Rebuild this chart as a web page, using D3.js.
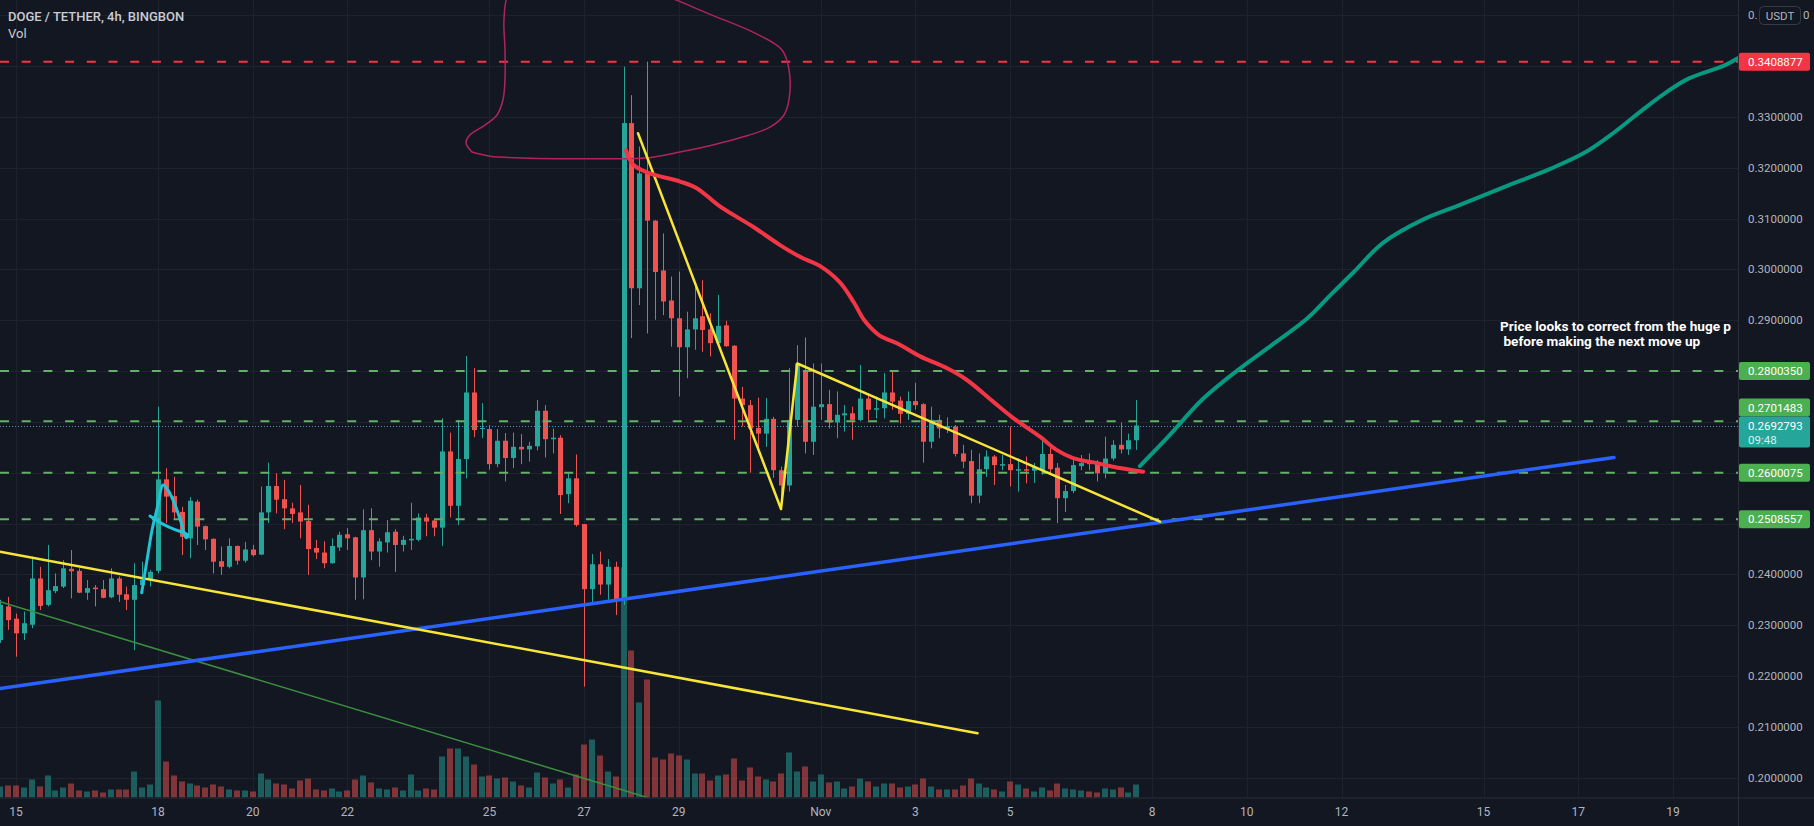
<!DOCTYPE html>
<html><head><meta charset="utf-8">
<script src="https://cdn.jsdelivr.net/npm/d3@7"></script>
<style>
html,body{margin:0;padding:0;background:#131722;overflow:hidden}
svg{display:block}
</style></head><body>
<svg id="c" width="1814" height="826"></svg>
<script>
// ---------------- DATA ----------------
const firstBarUTC = Date.UTC(2021, 9, 14, 16); // first visible 4h bar
const barHours = 4;
const open  = [.2271,.2337,.2313,.2284,.2301,.2392,.2340,.2367,.2376,.2411,.2407,.2364,.2374,.2371,.2355,.2392,.2361,.2350,.2379,.2390,
  .2407,.2587,.2554,.2523,.2471,.2543,.2495,.2470,.2426,.2415,.2456,.2427,.2449,.2439,.2522,.2574,.2548,.2530,.2522,.2505,
  .2452,.2443,.2422,.2453,.2479,.2473,.2394,.2487,.2445,.2463,.2484,.2458,.2467,.2468,.2512,.2506,.2492,.2642,.2535,.2627,
  .2758,.2687,.2686,.2617,.2663,.2629,.2651,.2646,.2652,.2722,.2666,.2669,.2558,.2589,.2499,.2371,.2420,.2380,.2415,.2350,
  .3288,.2963,.3188,.3096,.2998,.2939,.2904,.2847,.2882,.2908,.2882,.2855,.2890,.2850,.2746,.2733,.2688,.2677,.2706,.2605,
  .2575,.2704,.2801,.2661,.2729,.2735,.2699,.2713,.2717,.2704,.2746,.2724,.2727,.2758,.2742,.2716,.2741,.2735,.2661,.2704,
  .2687,.2691,.2638,.2623,.2555,.2607,.2632,.2614,.2617,.2604,.2607,.2604,.2605,.2637,.2610,.2550,.2564,.2613,.2619,.2620,
  .2599,.2628,.2655,.2646,.2664];
const high  = [.2350,.2356,.2323,.2327,.2435,.2415,.2458,.2402,.2428,.2448,.2412,.2389,.2379,.2389,.2412,.2396,.2376,.2422,.2425,.2409,
  .2730,.2609,.2592,.2533,.2552,.2547,.2496,.2471,.2455,.2471,.2457,.2464,.2458,.2573,.2620,.2599,.2586,.2541,.2576,.2537,
  .2468,.2465,.2471,.2484,.2491,.2474,.2528,.2530,.2471,.2507,.2489,.2476,.2541,.2520,.2519,.2508,.2707,.2679,.2704,.2830,
  .2806,.2737,.2694,.2686,.2678,.2679,.2676,.2661,.2743,.2733,.2687,.2674,.2599,.2636,.2499,.2440,.2445,.2430,.2425,.3399,
  .3343,.3242,.3409,.3097,.3071,.2986,.2996,.2917,.2969,.2979,.2914,.2950,.2899,.2851,.2769,.2743,.2748,.2747,.2710,.2612,
  .2806,.2851,.2866,.2815,.2815,.2763,.2760,.2733,.2730,.2812,.2753,.2750,.2796,.2802,.2750,.2760,.2777,.2737,.2730,.2714,
  .2709,.2694,.2655,.2645,.2638,.2644,.2635,.2635,.2691,.2628,.2632,.2619,.2668,.2655,.2619,.2576,.2625,.2635,.2638,.2625,
  .2671,.2664,.2699,.2677,.2743];
const low   = [.2265,.2291,.2238,.2271,.2294,.2330,.2337,.2363,.2373,.2353,.2363,.2350,.2337,.2353,.2353,.2346,.2330,.2251,.2376,.2376,
  .2402,.2501,.2507,.2438,.2432,.2458,.2448,.2402,.2399,.2412,.2419,.2423,.2435,.2438,.2501,.2520,.2489,.2501,.2471,.2399,
  .2430,.2412,.2421,.2446,.2448,.2350,.2351,.2428,.2415,.2443,.2405,.2445,.2448,.2465,.2475,.2475,.2456,.2512,.2497,.2589,
  .2670,.2668,.2606,.2611,.2583,.2609,.2617,.2622,.2644,.2630,.2638,.2519,.2540,.2494,.2179,.2340,.2360,.2350,.2320,.2340,
  .2865,.2930,.2874,.2901,.2910,.2848,.2750,.2786,.2842,.2838,.2829,.2851,.2848,.2665,.2691,.2600,.2640,.2651,.2590,.2531,
  .2563,.2691,.2638,.2635,.2704,.2687,.2668,.2681,.2665,.2701,.2704,.2707,.2707,.2724,.2697,.2704,.2724,.2620,.2648,.2668,
  .2678,.2632,.2609,.2540,.2540,.2592,.2576,.2605,.2573,.2563,.2579,.2580,.2596,.2599,.2501,.2523,.2560,.2605,.2605,.2583,
  .2589,.2624,.2638,.2635,.2645];
const close = [.2340,.2310,.2284,.2304,.2392,.2338,.2369,.2377,.2412,.2406,.2364,.2373,.2371,.2354,.2392,.2360,.2350,.2379,.2390,.2405,
  .2587,.2553,.2522,.2474,.2545,.2494,.2469,.2425,.2415,.2456,.2427,.2449,.2438,.2522,.2574,.2547,.2530,.2519,.2504,.2450,
  .2443,.2422,.2456,.2478,.2471,.2394,.2487,.2445,.2465,.2483,.2458,.2468,.2470,.2512,.2504,.2492,.2642,.2535,.2627,.2758,
  .2684,.2688,.2617,.2663,.2629,.2651,.2646,.2653,.2722,.2666,.2669,.2556,.2589,.2497,.2371,.2420,.2380,.2415,.2350,.3288,
  .2963,.3189,.3096,.2995,.2937,.2904,.2847,.2882,.2904,.2881,.2855,.2889,.2849,.2746,.2733,.2687,.2677,.2706,.2605,.2575,
  .2704,.2815,.2661,.2730,.2735,.2699,.2714,.2717,.2704,.2746,.2724,.2727,.2758,.2740,.2716,.2741,.2733,.2661,.2704,.2687,
  .2692,.2637,.2622,.2555,.2607,.2632,.2615,.2617,.2605,.2607,.2604,.2611,.2637,.2607,.2550,.2564,.2615,.2619,.2617,.2599,
  .2628,.2655,.2646,.2664,.2693];
const volume = [11,12,12,10,18,11,22,7,10,14,7,6,7,5,8,8,8,26,10,13,
  97,36,22,16,14,12,10,13,11,8,7,7,6,24,18,14,13,9,17,19,
  8,7,9,6,7,18,22,15,9,8,10,7,23,7,9,8,41,49,49,41,
  33,21,22,19,20,16,12,10,25,20,14,18,10,23,53,58,42,26,21,230,
  147,95,118,40,38,44,42,38,24,24,17,22,23,39,17,30,21,18,16,24,
  45,26,31,16,23,15,16,9,11,19,16,11,14,14,10,11,13,19,11,8,
  8,8,12,19,14,10,8,6,16,13,9,6,10,7,14,9,8,7,6,5,
  9,8,10,5,13];

// time axis ticks (date, label)
const timeTicks = [["2021-10-15","15"],["2021-10-18","18"],["2021-10-20","20"],["2021-10-22","22"],["2021-10-25","25"],
  ["2021-10-27","27"],["2021-10-29","29"],["2021-11-01","Nov"],["2021-11-03","3"],["2021-11-05","5"],["2021-11-08","8"],
  ["2021-11-10","10"],["2021-11-12","12"],["2021-11-15","15"],["2021-11-17","17"],["2021-11-19","19"]];
const gridPrices = [0.20,0.21,0.22,0.23,0.24,0.25,0.26,0.27,0.28,0.29,0.30,0.31,0.32,0.33,0.34,0.35];
const axisTickLabels = [0.20,0.21,0.22,0.23,0.24,0.29,0.30,0.31,0.32,0.33];
const topTickParts = ["0.", "0"]; // 0.3500000 mostly hidden behind the currency badge
const currency = "USDT";

// horizontal levels
const redLevel = 0.3408877;
const greenLevels = [0.2800350, 0.2701483, 0.2600075, 0.2508557];
const lastPrice = 0.2692793;
const countdown = "09:48";

// drawings: [days after 2021-10-15 00:00 UTC, price]
const yellowLong   = [[-0.338,0.24447],[20.311,0.20874]];
const yellowDrop   = [[13.139,0.32680],[16.160,0.25287],[16.504,0.28150],[24.166,0.25037]];
const blueLine     = [[-0.338,0.21755],[33.756,0.26301]];
const greenThin    = [[-0.338,0.23463],[13.371,0.19600]];
const redCurve = [[12.885,0.3235],[13.04,0.3206],[13.39,0.3189],[14.03,0.3173],[14.38,0.3160],[14.87,0.3124],[15.57,0.3084],
  [16.14,0.3048],[16.56,0.3025],[16.98,0.3007],[17.40,0.2975],[17.70,0.2935],[17.92,0.2900],[18.23,0.2871],[18.67,0.2852],
  [19.10,0.2829],[19.66,0.2806],[20.08,0.2783],[20.64,0.2740],[21.06,0.2708],[21.63,0.2671],[21.98,0.2645],[22.33,0.2629],
  [22.83,0.2619],[23.17,0.2612],[23.81,0.2602]];
const tealCurve = [[23.74,0.2613],[24.33,0.2670],[25.07,0.2745],[25.81,0.2802],[26.54,0.2852],[27.28,0.2904],[27.77,0.2950],
  [28.26,0.2995],[28.87,0.3052],[29.72,0.3098],[30.45,0.3125],[31.43,0.3162],[32.41,0.3198],[33.14,0.3230],[33.75,0.3269],
  [34.36,0.3314],[34.85,0.3348],[35.34,0.3376],[36.08,0.3401],[36.38,0.3416]];
const cyanScribble = [[2.655,0.2364],[2.767,0.2428],[2.873,0.2487],[3.0,0.2537],[3.105,0.2576],[3.211,0.2566],[3.359,0.2537],
  [3.485,0.2503],[3.591,0.2472],[3.63,0.2478],[3.52,0.2483],[3.359,0.2488],[3.105,0.2499],[2.831,0.2515]];
const pinkLoop = [[9.633,0.3231],[9.506,0.3249],[9.590,0.3265],[9.907,0.3284],[10.160,0.3304],[10.287,0.3334],[10.329,0.3373],
  [10.329,0.3432],[10.308,0.3491],[10.393,0.3540],[10.700,0.3565],[11.491,0.3575],[12.548,0.3565],[13.604,0.3542],
  [14.660,0.3502],[15.611,0.3465],[16.181,0.3432],[16.329,0.3393],[16.329,0.3334],[16.223,0.3304],[15.927,0.3280],
  [15.294,0.3259],[14.723,0.3245],[14.026,0.3231],[13.456,0.3221],[12.907,0.3218],[11.914,0.3218],[10.858,0.3219],
  [10.013,0.3223],[9.633,0.3231]];
const noteAt = [31.35, 0.2878];
// visible part of the note (the rest is cut off by the price scale in the reference)
const noteLines = ["Price looks to correct from the huge p", " before making the next move up"];
const titleText = "DOGE / TETHER, 4h, BINGBON";

// ---------------- CHART ----------------
const W = 1814, H = 826, plotR = 1738, plotB = 797.5;
const FONT = "Roboto, 'Open Sans', 'Noto Sans', sans-serif";
const base = Date.UTC(2021, 9, 15);
const day = d => new Date(base + d * 864e5);
const x = d3.scaleUtc().domain([new Date(Date.UTC(2021,9,15)), new Date(Date.UTC(2021,10,19))]).range([16, 1672.9]);
const y = d3.scaleLinear().domain([0.20, 0.33]).range([777.7, 117]);
const yv = d3.scaleLinear().domain([0, 100]).range([plotB, plotB - 100]);

const svg = d3.select("#c");
svg.append("rect").attr("width", W).attr("height", H).attr("fill", "#131722");
svg.append("defs").append("clipPath").attr("id","pc").append("rect")
  .attr("x",0).attr("y",0).attr("width",plotR).attr("height",plotB);

const plot = svg.append("g").attr("clip-path","url(#pc)");
// grid
plot.append("g").selectAll("line").data(gridPrices).join("line")
  .attr("x1",0).attr("x2",plotR).attr("y1",d=>Math.round(y(d))+0.5).attr("y2",d=>Math.round(y(d))+0.5)
  .attr("stroke","#1e222d").attr("stroke-width",1);
plot.append("g").selectAll("line").data(timeTicks).join("line")
  .attr("x1",d=>Math.round(x(new Date(d[0]+"T00:00:00Z")))+0.5).attr("x2",d=>Math.round(x(new Date(d[0]+"T00:00:00Z")))+0.5)
  .attr("y1",0).attr("y2",plotB).attr("stroke","#1e222d").attr("stroke-width",1);

const bars = open.map((o,i)=>({t:new Date(firstBarUTC + i*barHours*3600e3), o, h:high[i], l:low[i], c:close[i], v:volume[i]}));
// volume
plot.append("g").selectAll("rect").data(bars).join("rect")
  .attr("x",d=>Math.round(x(d.t))-3).attr("width",6)
  .attr("y",d=>yv(d.v)).attr("height",d=>plotB-yv(d.v))
  .attr("fill",d=>d.c>=d.o?"rgba(38,166,154,0.5)":"rgba(239,83,80,0.5)");
// candles
const cg = plot.append("g");
cg.selectAll("line").data(bars).join("line")
  .attr("x1",d=>Math.round(x(d.t))+0.5).attr("x2",d=>Math.round(x(d.t))+0.5)
  .attr("y1",d=>y(d.h)).attr("y2",d=>y(d.l))
  .attr("stroke",d=>d.c>=d.o?"#26a69a":"#ef5350").attr("stroke-width",1);
cg.selectAll("rect").data(bars).join("rect")
  .attr("x",d=>Math.round(x(d.t))-2).attr("width",5)
  .attr("y",d=>y(Math.max(d.o,d.c))).attr("height",d=>Math.max(1,Math.abs(y(d.o)-y(d.c))))
  .attr("fill",d=>d.c>=d.o?"#26a69a":"#ef5350");

// level lines
plot.append("line").attr("x1",0).attr("x2",plotR).attr("y1",y(redLevel)).attr("y2",y(redLevel))
  .attr("stroke","#f23645").attr("stroke-width",2).attr("stroke-dasharray","9,12.7");
plot.append("g").selectAll("line").data(greenLevels).join("line")
  .attr("x1",0).attr("x2",plotR).attr("y1",d=>y(d)).attr("y2",d=>y(d))
  .attr("stroke","#63b067").attr("stroke-width",2).attr("stroke-dasharray","9,12.7");
plot.append("line").attr("x1",0).attr("x2",plotR).attr("y1",Math.round(y(lastPrice))+0.5).attr("y2",Math.round(y(lastPrice))+0.5)
  .attr("stroke","#4a8fc0").attr("stroke-width",1).attr("stroke-dasharray","1,2");

// drawings
const lineGen = c => d3.line().x(d=>x(day(d[0]))).y(d=>y(d[1])).curve(c || d3.curveLinear);
const draw = (pts, color, w, curve) => plot.append("path").attr("d", lineGen(curve)(pts))
  .attr("fill","none").attr("stroke",color).attr("stroke-width",w).attr("stroke-linecap","round").attr("stroke-linejoin","round");
draw(greenThin, "#3a8f3e", 1.5);
draw(pinkLoop, "#b0245c", 1.5, d3.curveCatmullRom);
draw(blueLine, "#2962ff", 3.5);
draw(yellowLong, "#f7e53a", 2.5);
draw(yellowDrop, "#f7e53a", 2.5);
draw(redCurve, "#f23645", 4, d3.curveCatmullRom);
draw(tealCurve, "#089981", 4, d3.curveCatmullRom);
draw(cyanScribble, "#22c3d6", 3, d3.curveCatmullRom);

// note text
const nt = plot.append("text").attr("x",x(day(noteAt[0]))).attr("y",y(noteAt[1]))
  .attr("fill","#ffffff").attr("font-family",FONT).attr("font-size",13.6).attr("font-weight",700)
  .attr("xml:space","preserve").style("white-space","pre");
noteLines.forEach((t,i)=>nt.append("tspan").attr("x",x(day(noteAt[0]))).attr("dy",i?15:0).text(t));

// title
svg.append("text").attr("x",8).attr("y",21).attr("fill","#c9ccd4").attr("font-family",FONT)
  .attr("font-size",13).attr("font-weight",500).text(titleText);
svg.append("text").attr("x",8).attr("y",38).attr("fill","#c9ccd4").attr("font-family",FONT)
  .attr("font-size",13).text("Vol");

// axes frame
svg.append("line").attr("x1",plotR+0.5).attr("x2",plotR+0.5).attr("y1",0).attr("y2",H).attr("stroke","#2a2e39");
svg.append("line").attr("x1",0).attr("x2",W).attr("y1",plotB+0.5).attr("y2",plotB+0.5).attr("stroke","#2a2e39");

// price axis labels
const fmt = d3.format(".7f");
svg.append("g").selectAll("text").data(axisTickLabels).join("text")
  .attr("x",1748).attr("y",d=>y(d)).attr("dy","0.35em").attr("fill","#b2b5be")
  .attr("font-family",FONT).attr("font-size",11.5).text(d=>fmt(d));
// top tick, partly hidden by the currency badge
svg.append("text").attr("x",1748).attr("y",y(0.35)).attr("dy","0.35em").attr("fill","#b2b5be")
  .attr("font-family",FONT).attr("font-size",11.5).text(topTickParts[0]);
svg.append("text").attr("x",1803).attr("y",y(0.35)).attr("dy","0.35em").attr("fill","#b2b5be")
  .attr("font-family",FONT).attr("font-size",11.5).text(topTickParts[1]);
svg.append("rect").attr("x",1759.5).attr("y",6.5).attr("width",41).attr("height",18).attr("rx",4)
  .attr("fill","#131722").attr("stroke","#363a45");
svg.append("text").attr("x",1780).attr("y",15.5).attr("dy","0.35em").attr("text-anchor","middle")
  .attr("fill","#b2b5be").attr("font-family",FONT).attr("font-size",11.5).text(currency);

// time axis labels
svg.append("g").selectAll("text").data(timeTicks).join("text")
  .attr("x",d=>x(new Date(d[0]+"T00:00:00Z"))).attr("y",812).attr("dy","0.35em").attr("text-anchor","middle")
  .attr("fill","#b2b5be").attr("font-family",FONT).attr("font-size",12).text(d=>d[1]);

// value labels on price scale
function priceLabel(cy, color, lines){
  const h = lines.length===1 ? 18 : 31;
  const top = cy - 9;
  svg.append("rect").attr("x",plotR+1).attr("y",top).attr("width",71).attr("height",h).attr("rx",2).attr("fill",color);
  lines.forEach((t,i)=>svg.append("text").attr("x",1748).attr("y",cy + i*14).attr("dy","0.35em")
    .attr("fill",i? "#d8f0ee":"#ffffff").attr("font-family",FONT).attr("font-size",11.5).text(t));
  return top;
}
priceLabel(y(redLevel), "#f23645", [fmt(redLevel)]);
const tealTop = y(lastPrice) - 9;
greenLevels.forEach(v=>{
  let cy = y(v);
  if (Math.abs(cy - y(lastPrice)) < 18) cy = Math.min(cy, tealTop - 9);
  priceLabel(cy, "#4caf50", [fmt(v)]);
});
priceLabel(y(lastPrice), "#26a69a", [fmt(lastPrice), countdown]);
</script>
</body></html>
